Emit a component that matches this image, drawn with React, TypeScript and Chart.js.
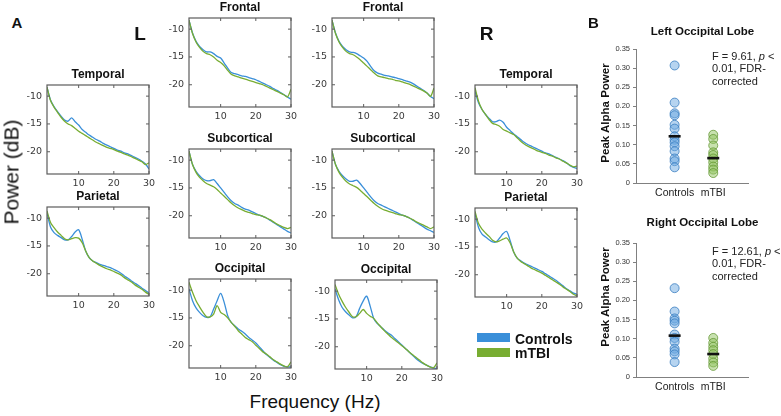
import React, { useEffect, useRef } from 'react';
import { Chart, registerables } from 'chart.js';
Chart.register(...registerables);

const SANS = '"Liberation Sans", Arial, Helvetica, sans-serif';
const TICK_FAMILY = '"DejaVu Sans", sans-serif';
Chart.defaults.font.family = SANS;

// ---------- DATA ----------
const freqs = [1, 2, 3, 4, 5, 6, 7, 8, 9, 10, 11, 12, 13, 14, 15, 16, 17, 18, 19, 20, 21, 22, 23, 24, 25, 26, 27, 28, 29, 30];
const freqTicks = [10, 20, 30];
const powerTicks = [-20, -15, -10];

const temporalLControls = [-8.4, -10.7, -11.9, -12.8, -13.6, -14.3, -14.5, -13.9, -14.6, -15.2, -16.0, -16.5, -17.0, -17.4, -17.8, -18.1, -18.5, -18.8, -19.1, -19.4, -19.7, -19.9, -20.2, -20.4, -20.7, -21.0, -21.3, -21.7, -22.2, -23.1];
const temporalLMtbi = [-8.4, -10.8, -12.0, -12.9, -13.8, -14.5, -15.0, -15.3, -15.8, -16.3, -16.7, -17.1, -17.5, -17.9, -18.3, -18.6, -18.9, -19.2, -19.4, -19.6, -19.9, -20.1, -20.4, -20.6, -20.9, -21.2, -21.5, -21.8, -22.3, -22.0];

const parietalLControls = [-9.0, -11.6, -12.6, -13.1, -13.5, -13.9, -13.9, -13.3, -12.5, -12.1, -13.8, -15.9, -17.1, -17.7, -18.0, -18.3, -18.5, -18.7, -18.9, -19.2, -19.5, -19.9, -20.4, -20.8, -21.3, -21.7, -22.1, -22.6, -23.0, -23.5];
const parietalLMtbi = [-8.7, -10.8, -11.7, -12.5, -13.1, -13.7, -13.9, -13.7, -13.5, -13.6, -14.4, -15.9, -17.1, -17.7, -18.1, -18.5, -18.8, -19.1, -19.3, -19.6, -19.9, -20.2, -20.7, -21.1, -21.5, -22.0, -22.4, -22.8, -23.3, -23.7];

const frontalLControls = [-8.4, -10.7, -12.2, -13.1, -13.7, -14.1, -14.1, -14.4, -14.9, -15.2, -16.1, -17.0, -17.8, -18.0, -18.2, -18.4, -18.5, -18.7, -18.9, -19.1, -19.4, -19.7, -20.0, -20.3, -20.7, -21.0, -21.4, -21.8, -22.2, -22.6];
const frontalLMtbi = [-8.4, -10.8, -12.3, -13.3, -14.0, -14.4, -14.6, -15.0, -15.6, -16.0, -16.6, -17.4, -18.1, -18.4, -18.6, -18.8, -19.0, -19.2, -19.4, -19.6, -19.8, -20.0, -20.3, -20.6, -20.9, -21.2, -21.5, -21.8, -22.2, -20.8];

const subcorticalLControls = [-8.4, -10.8, -12.0, -12.8, -13.4, -13.7, -13.7, -13.5, -14.2, -15.0, -15.8, -16.6, -17.3, -17.8, -18.1, -18.5, -18.8, -19.0, -19.3, -19.6, -19.9, -20.1, -20.4, -20.8, -21.2, -21.6, -22.0, -22.4, -22.8, -23.1];
const subcorticalLMtbi = [-8.4, -10.8, -12.2, -13.1, -13.7, -14.2, -14.5, -14.8, -15.3, -15.9, -16.5, -17.1, -17.7, -18.2, -18.6, -18.9, -19.2, -19.4, -19.6, -19.8, -19.9, -20.1, -20.4, -20.7, -21.1, -21.5, -21.8, -22.1, -22.3, -22.1];

const occipitalLControls = [-9.8, -11.9, -13.2, -14.0, -14.6, -14.9, -14.8, -13.4, -11.9, -10.6, -12.2, -14.6, -15.8, -16.4, -17.0, -17.4, -17.9, -18.5, -19.0, -19.5, -20.2, -20.9, -21.6, -22.1, -22.6, -23.0, -23.4, -23.7, -23.8, -23.8];
const occipitalLMtbi = [-8.6, -10.4, -11.9, -13.0, -14.0, -14.8, -14.8, -14.3, -12.8, -14.0, -14.4, -15.0, -15.8, -16.5, -17.3, -17.9, -18.5, -18.9, -19.3, -19.9, -20.5, -21.1, -21.5, -22.0, -22.5, -22.9, -23.3, -23.6, -23.8, -22.9];

const frontalRControls = [-8.4, -10.7, -12.2, -13.1, -13.7, -14.1, -14.2, -14.4, -14.8, -15.2, -15.8, -16.7, -17.5, -17.9, -18.1, -18.3, -18.4, -18.6, -18.7, -18.9, -19.1, -19.3, -19.5, -19.8, -20.2, -20.6, -21.0, -21.5, -22.1, -22.5];
const frontalRMtbi = [-8.4, -10.8, -12.3, -13.3, -14.0, -14.4, -14.6, -15.0, -15.5, -16.1, -16.7, -17.3, -17.9, -18.4, -18.6, -18.7, -18.9, -19.0, -19.2, -19.3, -19.5, -19.7, -19.9, -20.2, -20.5, -20.8, -21.1, -21.5, -22.1, -20.6];

const subcorticalRControls = [-8.4, -10.8, -12.0, -12.8, -13.4, -13.8, -13.8, -13.6, -14.2, -15.0, -15.8, -16.6, -17.3, -17.8, -18.1, -18.4, -18.7, -19.0, -19.3, -19.6, -19.9, -20.1, -20.4, -20.8, -21.2, -21.6, -22.0, -22.4, -22.7, -23.0];
const subcorticalRMtbi = [-8.4, -10.8, -12.2, -13.1, -13.8, -14.3, -14.6, -14.9, -15.4, -16.0, -16.6, -17.2, -17.8, -18.3, -18.7, -19.0, -19.2, -19.4, -19.6, -19.8, -19.9, -20.1, -20.4, -20.7, -21.1, -21.4, -21.7, -22.0, -22.3, -22.0];

const occipitalRControls = [-9.6, -11.5, -12.9, -13.7, -14.3, -14.8, -14.6, -13.1, -11.8, -10.9, -12.7, -14.9, -15.8, -16.4, -17.0, -17.5, -17.9, -18.5, -19.1, -19.7, -20.3, -20.9, -21.5, -22.1, -22.6, -23.0, -23.3, -23.6, -23.8, -23.9];
const occipitalRMtbi = [-8.8, -10.5, -11.8, -12.9, -13.8, -14.6, -14.6, -14.0, -13.3, -14.0, -14.5, -14.9, -15.7, -16.4, -17.1, -17.7, -18.3, -18.8, -19.3, -19.8, -20.3, -20.9, -21.4, -21.9, -22.4, -22.9, -23.3, -23.6, -23.8, -22.9];

const temporalRControls = [-9.1, -11.2, -12.4, -13.3, -14.0, -14.6, -14.6, -14.3, -14.7, -15.6, -16.2, -16.8, -17.3, -17.8, -18.3, -18.7, -19.0, -19.3, -19.6, -19.9, -20.2, -20.4, -20.7, -21.0, -21.3, -21.6, -22.0, -22.5, -22.8, -23.0];
const temporalRMtbi = [-8.5, -10.9, -12.4, -13.3, -14.2, -14.9, -15.1, -15.4, -16.0, -16.3, -16.6, -16.9, -17.5, -18.1, -18.6, -19.0, -19.3, -19.6, -19.9, -20.1, -20.3, -20.6, -20.8, -21.1, -21.3, -21.7, -22.0, -22.4, -22.7, -22.6];

const parietalRControls = [-9.0, -11.5, -12.7, -13.2, -13.7, -14.1, -14.1, -13.4, -12.6, -12.2, -13.9, -15.9, -17.0, -17.5, -17.9, -18.2, -18.5, -18.8, -19.1, -19.4, -19.8, -20.2, -20.6, -21.0, -21.5, -22.0, -22.5, -22.9, -23.3, -23.5];
const parietalRMtbi = [-8.6, -10.8, -11.8, -12.5, -13.1, -13.8, -14.1, -13.9, -13.6, -13.4, -14.3, -15.9, -17.0, -17.6, -18.0, -18.4, -18.8, -19.1, -19.4, -19.7, -20.1, -20.5, -20.9, -21.3, -21.7, -22.2, -22.6, -23.0, -23.5, -23.8];

const groups = ['Controls', 'mTBI'];
const alphaTicks = [0, 0.05, 0.1, 0.15, 0.2, 0.25, 0.3, 0.35];
const leftOccControls = [0.307, 0.21, 0.182, 0.177, 0.152, 0.142, 0.122, 0.113, 0.106, 0.096, 0.083, 0.064, 0.057, 0.041];
const leftOccMtbi = [0.126, 0.115, 0.098, 0.08, 0.073, 0.064, 0.054, 0.043, 0.035, 0.026];
const leftOccMeans = [0.122, 0.065];
const rightOccControls = [0.232, 0.171, 0.153, 0.147, 0.14, 0.111, 0.102, 0.092, 0.074, 0.067, 0.059, 0.039];
const rightOccMtbi = [0.102, 0.089, 0.079, 0.07, 0.06, 0.048, 0.038, 0.029];
const rightOccMeans = [0.108, 0.06];

// ---------- STYLE ----------
const BLUE = '#3a8fd9';
const GREEN = '#78ad32';
const BOX_W = 102;
const BOX_H = 89;
const AX_L = 34;
const AX_R = 34;
const TITLE_H = 20;
const XAX_H = 18;

const matlabBox = {
  id: 'matlabBox',
  afterDatasetsDraw(chart: any) {
    const { ctx, chartArea: a, scales } = chart;
    ctx.save();
    ctx.strokeStyle = '#5c5c5c';
    ctx.lineWidth = 1.2;
    ctx.strokeRect(a.left, a.top, a.right - a.left, a.bottom - a.top);
    ctx.lineWidth = 1;
    ctx.beginPath();
    for (const v of freqTicks) {
      const px = scales.x.getPixelForValue(v);
      ctx.moveTo(px, a.bottom); ctx.lineTo(px, a.bottom - 3);
      ctx.moveTo(px, a.top); ctx.lineTo(px, a.top + 3);
    }
    for (const v of powerTicks) {
      const py = scales.y.getPixelForValue(v);
      ctx.moveTo(a.left, py); ctx.lineTo(a.left + 3, py);
      ctx.moveTo(a.right, py); ctx.lineTo(a.right - 3, py);
    }
    ctx.stroke();
    ctx.restore();
  },
};

function SpectrumPanel(props: { left: number; top: number; title: string; controls: number[]; mtbi: number[] }) {
  const ref = useRef<HTMLCanvasElement>(null);
  const W = AX_L + BOX_W + AX_R;
  const H = TITLE_H + BOX_H + XAX_H;
  useEffect(() => {
    const tickFont = { family: TICK_FAMILY, size: 9.5 };
    const chart = new Chart(ref.current as HTMLCanvasElement, {
      type: 'line',
      data: {
        datasets: [
          { label: 'mTBI', data: freqs.map((f, i) => ({ x: f, y: props.mtbi[i] })), borderColor: GREEN, borderWidth: 1.3, pointRadius: 0, tension: 0.3, fill: false },
          { label: 'Controls', data: freqs.map((f, i) => ({ x: f, y: props.controls[i] })), borderColor: BLUE, borderWidth: 1.3, pointRadius: 0, tension: 0.3, fill: false },
        ],
      },
      options: {
        responsive: false,
        maintainAspectRatio: false,
        animation: false,
        layout: { padding: 0 },
        plugins: {
          legend: { display: false },
          tooltip: { enabled: false },
          title: {
            display: true,
            text: props.title,
            color: '#111',
            font: { family: SANS, size: 12, weight: 'bold', lineHeight: 1.2 },
            padding: { top: 2, bottom: 3.6 },
          },
        },
        scales: {
          x: {
            type: 'linear', min: 1, max: 30,
            grid: { display: false, drawTicks: false },
            border: { display: false },
            ticks: { font: tickFont, color: '#3a3a3a', padding: 4, maxRotation: 0 },
            afterBuildTicks: (s: any) => { s.ticks = freqTicks.map((v) => ({ value: v })); },
            afterFit: (s: any) => { s.height = XAX_H; },
          },
          y: {
            type: 'linear', min: -24, max: -8,
            grid: { display: false, drawTicks: false },
            border: { display: false },
            ticks: { font: tickFont, color: '#3a3a3a', padding: 5 },
            afterBuildTicks: (s: any) => { s.ticks = powerTicks.map((v) => ({ value: v })); },
            afterFit: (s: any) => { s.width = AX_L; },
          },
          y2: {
            type: 'linear', position: 'right', min: -24, max: -8,
            grid: { display: false, drawTicks: false },
            border: { display: false },
            ticks: { display: false },
            afterFit: (s: any) => { s.width = AX_R; },
          },
        },
      } as any,
      plugins: [matlabBox],
    });
    return () => chart.destroy();
  }, []);
  return (
    <canvas
      ref={ref}
      width={W}
      height={H}
      style={{ position: 'absolute', left: props.left - AX_L, top: props.top - TITLE_H, width: W, height: H }}
    />
  );
}

function AlphaPanel(props: { top: number; canvasTop: number; title: string; controls: number[]; mtbi: number[]; means: number[] }) {
  const ref = useRef<HTMLCanvasElement>(null);
  const LEFT = 606;
  const YW = 30;
  const PLOT_W = 112;
  const RIGHT_W = 51;
  const PLOT_H = 134;
  const XH = 20;
  const titleLine = 11.5 * 1.2;
  const padTop = 4;
  const padBottom = props.top - props.canvasTop - padTop - titleLine;
  const W = YW + PLOT_W + RIGHT_W;
  const H = (props.top - props.canvasTop) + PLOT_H + XH;
  useEffect(() => {
    const chart = new Chart(ref.current as HTMLCanvasElement, {
      type: 'scatter',
      data: {
        datasets: [
          {
            label: 'Mean', data: props.means.map((m, i) => ({ x: i + 1, y: m })),
            pointStyle: 'line', pointRadius: 6, pointBorderWidth: 2.6, pointBorderColor: '#111', pointBackgroundColor: '#111', showLine: false,
          },
          {
            label: 'mTBI', data: props.mtbi.map((v) => ({ x: 2, y: v })),
            pointRadius: 4.5, pointBorderWidth: 1, pointBackgroundColor: 'rgba(146,196,95,0.5)', pointBorderColor: 'rgba(98,150,50,0.75)',
          },
          {
            label: 'Controls', data: props.controls.map((v) => ({ x: 1, y: v })),
            pointRadius: 4.5, pointBorderWidth: 1, pointBackgroundColor: 'rgba(110,170,225,0.5)', pointBorderColor: 'rgba(50,120,190,0.75)',
          },
        ],
      },
      options: {
        responsive: false,
        maintainAspectRatio: false,
        animation: false,
        layout: { padding: 0 },
        plugins: {
          legend: { display: false },
          tooltip: { enabled: false },
          title: {
            display: true,
            text: props.title,
            color: '#111',
            font: { family: SANS, size: 11.5, weight: 'bold', lineHeight: 1.2 },
            padding: { top: padTop, bottom: padBottom },
          },
        },
        scales: {
          x: {
            type: 'linear', min: 0, max: 2.9,
            grid: { display: true, drawOnChartArea: false, drawTicks: false, color: '#808080' },
            border: { display: true, color: '#808080', width: 1 },
            ticks: { font: { family: SANS, size: 10.5 }, color: '#222', padding: 4, maxRotation: 0, callback: (v: any) => groups[Math.round(v) - 1] },
            afterBuildTicks: (s: any) => { s.ticks = groups.map((_, i) => ({ value: i + 1 })); },
            afterFit: (s: any) => { s.height = XH; },
          },
          y: {
            type: 'linear', min: 0, max: 0.35,
            grid: { display: true, drawOnChartArea: false, drawTicks: true, tickLength: 3, color: '#808080' },
            border: { display: true, color: '#808080', width: 1 },
            ticks: { font: { family: SANS, size: 7.5 }, color: '#333', padding: 3 },
            afterBuildTicks: (s: any) => { s.ticks = alphaTicks.map((v) => ({ value: v })); },
            afterFit: (s: any) => { s.width = YW; },
          },
          y2: {
            type: 'linear', position: 'right', min: 0, max: 0.35,
            grid: { display: false, drawTicks: false },
            border: { display: false },
            ticks: { display: false },
            afterFit: (s: any) => { s.width = RIGHT_W; },
          },
        },
      } as any,
    });
    return () => chart.destroy();
  }, []);
  return (
    <canvas
      ref={ref}
      width={W}
      height={H}
      style={{ position: 'absolute', left: LEFT, top: props.canvasTop, width: W, height: H }}
    />
  );
}

function Txt(props: { x: number; y: number; size: number; bold?: boolean; rotate?: boolean; children: any }) {
  return (
    <div
      style={{
        position: 'absolute',
        left: props.x,
        top: props.y,
        transform: `translate(-50%, -50%)${props.rotate ? ' rotate(-90deg)' : ''}`,
        fontFamily: SANS,
        fontSize: props.size,
        fontWeight: props.bold ? 700 : 400,
        lineHeight: 1,
        whiteSpace: 'nowrap',
        color: '#111',
      }}
    >
      {props.children}
    </div>
  );
}

function Note(props: { top: number; f: string }) {
  return (
    <div
      style={{
        position: 'absolute', left: 712, top: props.top, fontFamily: SANS, fontSize: 11,
        lineHeight: '12.5px', color: '#222', whiteSpace: 'nowrap',
      }}
    >
      F = {props.f}, <i>p</i> &lt;<br />0.01, FDR-<br />corrected
    </div>
  );
}

export default function App() {
  return (
    <div style={{ position: 'fixed', left: 0, top: 0, width: 781, height: 416, background: '#fff', overflow: 'hidden' }}>
      <SpectrumPanel left={47} top={85} title="Temporal" controls={temporalLControls} mtbi={temporalLMtbi} />
      <SpectrumPanel left={47} top={207} title="Parietal" controls={parietalLControls} mtbi={parietalLMtbi} />
      <SpectrumPanel left={189} top={18} title="Frontal" controls={frontalLControls} mtbi={frontalLMtbi} />
      <SpectrumPanel left={189} top={149} title="Subcortical" controls={subcorticalLControls} mtbi={subcorticalLMtbi} />
      <SpectrumPanel left={189} top={279} title="Occipital" controls={occipitalLControls} mtbi={occipitalLMtbi} />
      <SpectrumPanel left={332} top={18} title="Frontal" controls={frontalRControls} mtbi={frontalRMtbi} />
      <SpectrumPanel left={332} top={149} title="Subcortical" controls={subcorticalRControls} mtbi={subcorticalRMtbi} />
      <SpectrumPanel left={335} top={280} title="Occipital" controls={occipitalRControls} mtbi={occipitalRMtbi} />
      <SpectrumPanel left={475} top={85} title="Temporal" controls={temporalRControls} mtbi={temporalRMtbi} />
      <SpectrumPanel left={475} top={208} title="Parietal" controls={parietalRControls} mtbi={parietalRMtbi} />

      <AlphaPanel top={49} canvasTop={21} title="Left Occipital Lobe" controls={leftOccControls} mtbi={leftOccMtbi} means={leftOccMeans} />
      <AlphaPanel top={243} canvasTop={212} title="Right Occipital Lobe" controls={rightOccControls} mtbi={rightOccMtbi} means={rightOccMeans} />

      <Txt x={16.8} y={22.3} size={15} bold>A</Txt>
      <Txt x={140} y={32.7} size={19} bold>L</Txt>
      <Txt x={486.7} y={32.7} size={19} bold>R</Txt>
      <Txt x={593.3} y={22} size={15} bold>B</Txt>
      <Txt x={11} y={172} size={21} rotate>Power (dB)</Txt>
      <Txt x={315} y={401} size={19}>Frequency (Hz)</Txt>
      <Txt x={606} y={113} size={11.5} bold rotate>Peak Alpha Power</Txt>
      <Txt x={606} y={297} size={11.5} bold rotate>Peak Alpha Power</Txt>

      <div style={{ position: 'absolute', left: 477, top: 333, width: 33, height: 9, background: '#3a8fd9' }} />
      <div style={{ position: 'absolute', left: 477, top: 347.5, width: 33, height: 9.5, background: '#78ad32' }} />
      <div style={{ position: 'absolute', left: 515, top: 338.5, transform: 'translateY(-50%)', fontFamily: SANS, fontSize: 14, fontWeight: 700, lineHeight: 1, color: '#111' }}>Controls</div>
      <div style={{ position: 'absolute', left: 515, top: 353, transform: 'translateY(-50%)', fontFamily: SANS, fontSize: 14, fontWeight: 700, lineHeight: 1, color: '#111' }}>mTBI</div>

      <Note top={49.7} f="9.61" />
      <Note top={244.8} f="12.61" />
    </div>
  );
}
